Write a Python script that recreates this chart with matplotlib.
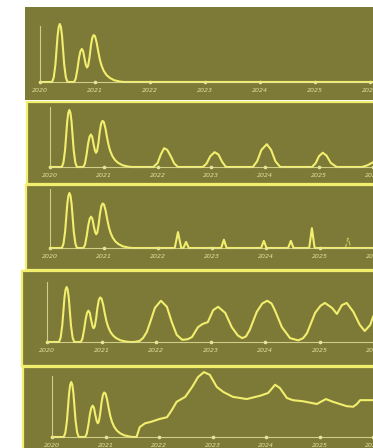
import numpy as np
import matplotlib.pyplot as plt

W, H = 373, 448
OLIVE = '#7d7a38'
YEL = '#f2ee6e'
PALE = '#e6e39a'

years = ['2020', '2021', '2022', '2023', '2024', '2025', '2026']

# first wave, shared by every panel (years after 2020, height relative to first peak)
wave_x = [0.0, 0.22, 0.25, 0.28, 0.30, 0.32, 0.34, 0.36, 0.38, 0.40, 0.42, 0.44,
          0.47, 0.50,
          0.62, 0.65, 0.68, 0.71, 0.735, 0.76, 0.785, 0.81, 0.835, 0.855, 0.875,
          0.90, 0.925, 0.95, 0.975, 1.0, 1.03, 1.06, 1.09, 1.12, 1.16, 1.21, 1.27,
          1.35, 1.45, 1.52]
wave_y = [0.0, 0.0, 0.08, 0.30, 0.55, 0.80, 0.95, 1.0, 0.95, 0.80, 0.55, 0.30,
          0.08, 0.0,
          0.0, 0.06, 0.22, 0.42, 0.53, 0.57, 0.53, 0.40, 0.29, 0.25, 0.28,
          0.42, 0.62, 0.76, 0.81, 0.79, 0.68, 0.52, 0.38, 0.28, 0.19, 0.12, 0.07,
          0.03, 0.008, 0.0]

# later waves per panel
p1_x = [6.6]
p1_y = [0.0]

p2_x = [1.92, 2.0, 2.06, 2.12, 2.18, 2.25, 2.31, 2.38,
        2.84, 2.91, 2.98, 3.06, 3.13, 3.20, 3.27,
        3.77, 3.85, 3.93, 4.03, 4.11, 4.19, 4.28,
        4.87, 4.94, 5.0, 5.07, 5.14, 5.22, 5.33,
        5.80, 5.90, 6.0, 6.1, 6.3]
p2_y = [0.0, 0.07, 0.22, 0.33, 0.30, 0.18, 0.06, 0.0,
        0.0, 0.06, 0.19, 0.26, 0.22, 0.09, 0.0,
        0.0, 0.10, 0.30, 0.40, 0.30, 0.10, 0.0,
        0.0, 0.07, 0.19, 0.25, 0.20, 0.07, 0.0,
        0.0, 0.03, 0.08, 0.15, 0.3]

p3_x = [2.31, 2.37, 2.43, 2.47, 2.52, 2.57,
        3.17, 3.22, 3.27, 3.91, 3.96, 4.01, 4.41, 4.46, 4.51,
        4.80, 4.85, 4.90, 6.6]
p3_y = [0.0, 0.29, 0.0, 0.0, 0.11, 0.0,
        0.0, 0.15, 0.0, 0.0, 0.13, 0.0, 0.0, 0.13, 0.0,
        0.0, 0.36, 0.0, 0.0]
p3_faint_x = [5.47, 5.52, 5.57]
p3_faint_y = [0.0, 0.18, 0.0]

p4_x = [1.60, 1.70, 1.76, 1.83, 1.89, 1.98, 2.09, 2.20, 2.29, 2.38, 2.48,
        2.58, 2.66, 2.77, 2.86, 2.95, 3.05, 3.14, 3.27, 3.39, 3.50, 3.58,
        3.65, 3.72, 3.85, 3.95, 4.04, 4.12, 4.18, 4.31, 4.46, 4.61,
        4.70, 4.77, 4.92, 5.02, 5.10, 5.23, 5.32, 5.41, 5.50, 5.62, 5.74,
        5.83, 5.93, 5.98, 6.05]
p4_y = [0.0, 0.02, 0.07, 0.18, 0.35, 0.62, 0.75, 0.64, 0.36, 0.13, 0.04,
        0.05, 0.09, 0.27, 0.33, 0.36, 0.58, 0.64, 0.53, 0.27, 0.12, 0.07,
        0.10, 0.22, 0.55, 0.70, 0.75, 0.70, 0.58, 0.27, 0.07, 0.03,
        0.07, 0.16, 0.53, 0.66, 0.71, 0.62, 0.51, 0.67, 0.71, 0.55, 0.31,
        0.20, 0.31, 0.45, 0.6]

p5_x = [1.58, 1.64, 1.74, 1.83, 2.02, 2.15, 2.24, 2.33, 2.49, 2.62, 2.73,
        2.84, 2.95, 3.08, 3.20, 3.38, 3.64, 3.89, 4.04, 4.17, 4.26, 4.39,
        4.50, 4.69, 4.95, 5.12, 5.25, 5.51, 5.63, 5.70, 5.76, 5.94, 6.1]
p5_y = [0.0, 0.18, 0.25, 0.27, 0.33, 0.36, 0.49, 0.64, 0.73, 0.91, 1.09,
        1.18, 1.13, 0.91, 0.82, 0.73, 0.69, 0.75, 0.80, 0.95, 0.89, 0.71,
        0.67, 0.65, 0.60, 0.69, 0.64, 0.56, 0.55, 0.60, 0.67, 0.67, 0.67]

# panel boxes (left, top, right, bottom px) and inner axis (x of 2020, px/yr, baseline, top, px of first peak)
panels = [
    dict(box=(25, 7, 380, 100), border=False, ax=(40, 55.0, 82, 26, 58), x=p1_x, y=p1_y),
    dict(box=(27, 102, 380, 184), border=True, ax=(50, 53.8, 167, 107, 57), x=p2_x, y=p2_y),
    dict(box=(26, 185, 380, 270), border=True, ax=(50, 54.0, 248, 189, 55), x=p3_x, y=p3_y),
    dict(box=(22, 271, 380, 366), border=True, ax=(47, 54.5, 342, 282, 55), x=p4_x, y=p4_y),
    dict(box=(23, 367, 380, 460), border=True, ax=(52, 53.5, 437, 376, 55), x=p5_x, y=p5_y),
]

fig = plt.figure(figsize=(W / 100, H / 100), dpi=100, facecolor='white')

for i, p in enumerate(panels):
    l, t, r, b = p['box']
    bg = fig.add_axes([l / W, 1 - b / H, (r - l) / W, (b - t) / H])
    bg.set_facecolor(OLIVE)
    bg.set_xticks([])
    bg.set_yticks([])
    for s in bg.spines.values():
        s.set_visible(p['border'])
        s.set_color(YEL)
        s.set_linewidth(1.6)

    x0, sc, base, top, pk = p['ax']
    ax = fig.add_axes([x0 / W, 1 - base / H, 6.6 * sc / W, (base - top) / H])
    ax.patch.set_alpha(0)
    ax.set_xlim(0, 6.6)
    ax.set_ylim(0, (base - top) / pk)
    for s in ['top', 'right']:
        ax.spines[s].set_visible(False)
    for s in ['left', 'bottom']:
        ax.spines[s].set_color(PALE)
        ax.spines[s].set_linewidth(0.8)
        ax.spines[s].set_alpha(0.8)
    ax.set_yticks([])
    ax.set_xticks(range(len(years)))
    ax.set_xticklabels(years, fontsize=4.5, color=PALE, style='italic')
    ax.tick_params(axis='x', length=0, pad=4)
    ax.plot(range(len(years)), [0] * len(years), 'o', ms=1.6, color=PALE,
            clip_on=False)

    # pad zeros between first wave and later data
    xs = list(wave_x) + [p['x'][0] - 0.01] + list(p['x'])
    ys = list(wave_y) + [0.0] + list(p['y'])
    ax.plot(xs, ys, color=YEL, lw=1.5, clip_on=False)
    if i == 2:
        ax.plot(p3_faint_x, p3_faint_y, color=YEL, lw=0.9, alpha=0.6,
                ls='--', clip_on=False)

fig.savefig('out.png', dpi=100, facecolor='white')
